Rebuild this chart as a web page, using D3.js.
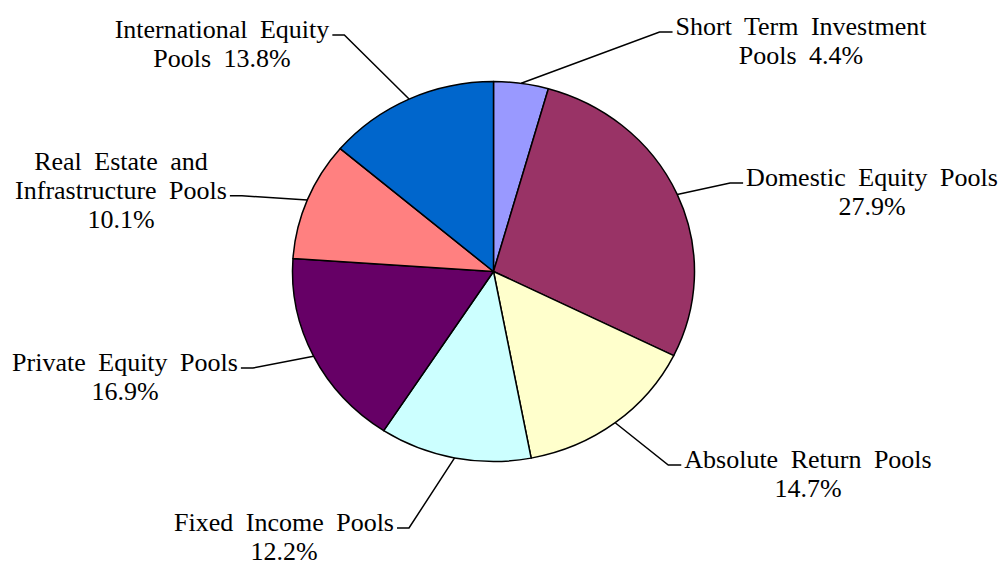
<!DOCTYPE html>
<html>
<head>
<meta charset="utf-8">
<script src="https://cdn.jsdelivr.net/npm/d3@7"></script>
<style>
  html, body { margin: 0; padding: 0; background: #fff; }
  text { font-family: "Liberation Serif", "Times New Roman", serif; font-size: 26px; fill: #000; word-spacing: 6px; }
</style>
</head>
<body>
<div id="chart"></div>
<script>
// clockwise from 12 o'clock
const categories = [
    "Short Term Investment\nPools {p}",
    "Domestic Equity Pools\n{p}",
    "Absolute Return Pools\n{p}",
    "Fixed Income Pools\n{p}",
    "Private Equity Pools\n{p}",
    "Real Estate and\nInfrastructure Pools\n{p}",
    "International Equity\nPools {p}"
]
const values = [4.4, 27.9, 14.7, 12.2, 16.9, 10.1, 13.8]
const colors = ['#9999FF', '#993366', '#FFFFCC', '#CCFFFF', '#660066', '#FF8080', '#0066CC']

// label placement (centre x, first baseline, which line the leader meets, side of the leader)
const labelLayout = [
    { x: 801, y: 35, attach: 0, side: 'left' },
    { x: 872, y: 186, attach: 0, side: 'left' },
    { x: 808, y: 468, attach: 0, side: 'left' },
    { x: 284, y: 531, attach: 0, side: 'right' },
    { x: 125, y: 371, attach: 0, side: 'right' },
    { x: 121, y: 170, attach: 1, side: 'right' },
    { x: 222, y: 38, attach: 0, side: 'right' }
]

const width = 1002
const height = 565
const cx = 493.5, cy = 271.5
const rx = 201, ry = 190
const lineH = 28.8

const fmt = d3.format('.1f')

const svg = d3.select('#chart')
    .append('svg')
    .attr('width', width)
    .attr('height', height)

const pie = d3.pie().sort(null).value(d => d)
const arcs = pie(values)
const arc = d3.arc().innerRadius(0).outerRadius(rx)

// slightly squashed pie, like the original export
const pieG = svg.append('g')
    .attr('transform', `translate(${cx},${cy}) scale(1,${ry / rx})`)

pieG.selectAll('path.slice')
    .data(arcs)
    .join('path')
    .attr('class', 'slice')
    .attr('d', arc)
    .attr('fill', (d, i) => colors[i])
    .attr('stroke', '#000')
    .attr('stroke-width', 1.5)
    .attr('vector-effect', 'non-scaling-stroke')
    .attr('stroke-linejoin', 'round')

// labels
const labelG = svg.append('g').attr('class', 'labels')

arcs.forEach((a, i) => {
    const lay = labelLayout[i]
    const lines = categories[i].replace('{p}', fmt(values[i]) + '%').split('\n')
    const texts = lines.map((ln, j) => labelG.append('text')
        .attr('text-anchor', 'middle')
        .attr('x', lay.x)
        .attr('y', lay.y + j * lineH)
        .text(ln))

    // leader line: from slice mid-angle on the rim to the label
    const bb = texts[lay.attach].node().getBBox()
    const ly = lay.y + lay.attach * lineH - 3
    const endX = lay.side === 'left' ? bb.x - 3 : bb.x + bb.width + 3
    const elbowX = lay.side === 'left' ? endX - 13 : endX + 12
    const mid = (a.startAngle + a.endAngle) / 2
    const px = cx + Math.sin(mid) * rx
    const py = cy - Math.cos(mid) * ry

    labelG.append('path')
        .attr('d', d3.line()([[endX, ly], [elbowX, ly], [px, py]]))
        .attr('fill', 'none')
        .attr('stroke', '#000')
        .attr('stroke-width', 1.5)
})
</script>
</body>
</html>
